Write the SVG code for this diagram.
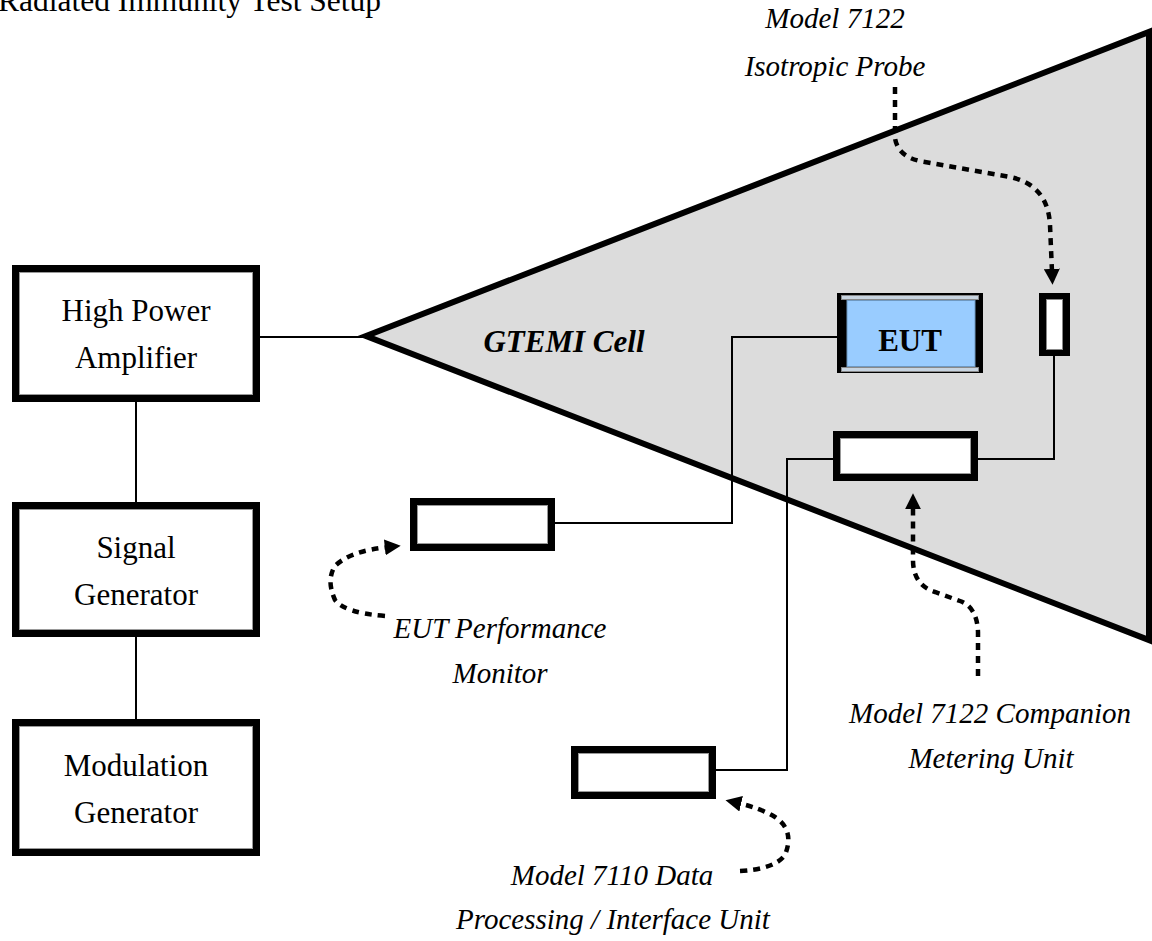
<svg xmlns="http://www.w3.org/2000/svg" width="1152" height="941" viewBox="0 0 1152 941">
<style>
  .box{fill:#fff;stroke:#000;stroke-width:7}
  .inner{fill:none;stroke:#999;stroke-width:1}
  .lbl{font-family:"Liberation Serif","Times New Roman",serif;font-size:31px;fill:#000;text-anchor:middle}
  .ital{font-family:"Liberation Serif","Times New Roman",serif;font-size:29px;font-style:italic;fill:#000;text-anchor:middle}
  .wire{fill:none;stroke:#000;stroke-width:2}
  .dash{fill:none;stroke:#000;stroke-width:4.5;stroke-dasharray:7 6}
</style>
<defs>
  <marker id="ah" viewBox="0 0 10 10" refX="2" refY="5" markerWidth="16" markerHeight="16" markerUnits="userSpaceOnUse" orient="auto">
    <path d="M0,0 L10,5 L0,10 z" fill="#000"/>
  </marker>
</defs>
<rect width="1152" height="941" fill="#fff"/>
<text x="-2" y="11" class="lbl" style="text-anchor:start;font-size:31.5px">Radiated Immunity Test Setup</text>

<g id="gtem-cell">
  <polygon points="366,336 1149,32 1149,640" fill="#dcdcdc" stroke="#000" stroke-width="6" stroke-linejoin="miter"/>
  <line x1="1149" y1="32" x2="1149" y2="640" stroke="#000" stroke-width="1.5"/>
  <text x="564" y="352" class="lbl" style="font-weight:bold;font-style:italic">GTEMI Cell</text>
</g>

<g id="connectors">
  <polyline class="wire" points="260,337 366,337"/>
  <line class="wire" x1="136" y1="402" x2="136" y2="502"/>
  <line class="wire" x1="136" y1="636" x2="136" y2="719"/>
  <polyline class="wire" points="555,523 732,523 732,337 837,337"/>
  <polyline class="wire" points="1054,356 1054,459 978,459"/>
  <polyline class="wire" points="833,459 787,459 787,770 716,770"/>
  <path class="dash" d="M895,87 V138 Q898,158 925,162 L1010,177 Q1048,185 1050,225 L1052,272" marker-end="url(#ah)"/>
  <path class="dash" d="M978,676 V632 Q977,607 960,601 L935,592 Q913,585 913,560 V506" marker-end="url(#ah)"/>
  <path class="dash" d="M385,616 Q345,613 335,600 Q326,580 335,566 Q350,551 388,547" marker-end="url(#ah)"/>
  <path class="dash" d="M740,871 Q775,869 785,855 Q795,830 775,817 Q760,808 738,803" marker-end="url(#ah)"/>
</g>

<g id="hpa">
  <rect class="box" x="15.5" y="268.5" width="241" height="130"/>
  <rect class="inner" x="19.5" y="272.5" width="233" height="122"/>
  <text x="136" y="321" class="lbl">High Power</text>
  <text x="136" y="368" class="lbl">Amplifier</text>
</g>

<g id="signal-generator">
  <rect class="box" x="15.5" y="505.5" width="241" height="128"/>
  <rect class="inner" x="19.5" y="509.5" width="233" height="120"/>
  <text x="136" y="558" class="lbl">Signal</text>
  <text x="136" y="605" class="lbl">Generator</text>
</g>

<g id="modulation-generator">
  <rect class="box" x="15.5" y="722.5" width="241" height="130"/>
  <rect class="inner" x="19.5" y="726.5" width="233" height="122"/>
  <text x="136" y="776" class="lbl">Modulation</text>
  <text x="136" y="823" class="lbl">Generator</text>
</g>

<g id="eut">
  <rect x="837" y="293" width="146" height="80" fill="#000"/>
  <rect x="841.5" y="295.5" width="137" height="4" fill="#c8d4e0" stroke="#888" stroke-width="1"/>
  <rect x="841.5" y="367.5" width="137" height="4" fill="#c8d4e0" stroke="#888" stroke-width="1"/>
  <rect x="847" y="300.5" width="128" height="66" fill="#99ccff" stroke="#6f98c0" stroke-width="1"/>
  <text x="910" y="351" class="lbl" style="font-weight:bold">EUT</text>
</g>

<g id="isotropic-probe">
  <rect x="1039" y="293" width="31" height="63" fill="#000"/>
  <rect x="1046.5" y="299.5" width="16" height="50" fill="#fff" stroke="#888" stroke-width="1"/>
  <text x="835" y="28" class="ital">Model 7122</text>
  <text x="835" y="76" class="ital">Isotropic Probe</text>
</g>

<g id="metering-unit">
  <rect class="box" x="836.5" y="434.5" width="138" height="43"/>
  <rect class="inner" x="840.5" y="438.5" width="130" height="35"/>
  <text x="990" y="723" class="ital">Model 7122 Companion</text>
  <text x="991" y="768" class="ital">Metering Unit</text>
</g>

<g id="eut-monitor">
  <rect class="box" x="413.5" y="501.5" width="138" height="46"/>
  <rect class="inner" x="417.5" y="505.5" width="130" height="38"/>
  <text x="500" y="638" class="ital">EUT Performance</text>
  <text x="500" y="683" class="ital">Monitor</text>
</g>

<g id="data-unit">
  <rect class="box" x="574.5" y="749.5" width="138" height="46"/>
  <rect class="inner" x="578.5" y="753.5" width="130" height="38"/>
  <text x="612" y="885" class="ital">Model 7110 Data</text>
  <text x="613" y="929" class="ital">Processing / Interface Unit</text>
</g>
</svg>
